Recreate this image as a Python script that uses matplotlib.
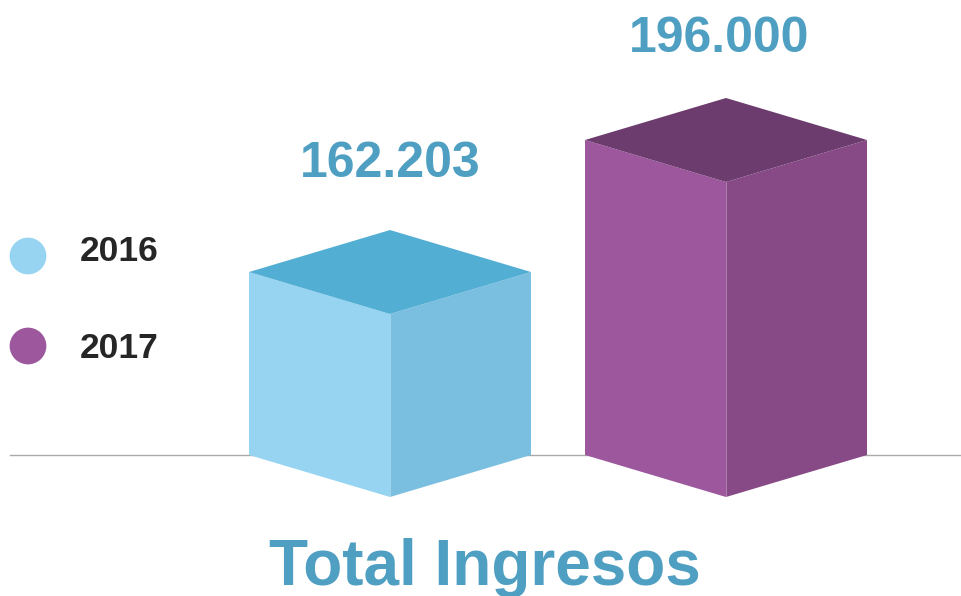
import matplotlib.pyplot as plt
from matplotlib.patches import Polygon

# Data
years = ['2016', '2017']
totals = [162203, 196000]
labels = ['162.203', '196.000']
title = 'Total Ingresos'

# Styles (left face, right face, top)
face_colors = [
    ('#96d4f2', '#7bbfe0', '#53aed4'),
    ('#9c579d', '#874a86', '#6d3c6e'),
]
text_blue = '#4f9fc2'

plt.rcParams['font.family'] = ['Liberation Sans', 'DejaVu Sans']

W, H = 961, 596
fig = plt.figure(figsize=(W / 100, H / 100), dpi=100)
ax = fig.add_axes([0, 0, 1, 1])
ax.set_axis_off()

# axis scale: baseline of the (truncated) value axis and units per pixel
y_base = 115360
units_px = 256.0
base_px = 455
ax.set_ylim(y_base - (H - base_px) * units_px, y_base + base_px * units_px)

x_px = 336.0  # pixels per category
ax.set_xlim(-390 / x_px, 1 + (W - 726) / x_px)

half_w = 141 / x_px
depth = 42 * units_px

for i, (v, (cl, cr, ct)) in enumerate(zip(totals, face_colors)):
    c = i
    left = [(c - half_w, v), (c, v - depth), (c, y_base - depth), (c - half_w, y_base)]
    right = [(c, v - depth), (c + half_w, v), (c + half_w, y_base), (c, y_base - depth)]
    top = [(c - half_w, v), (c, v + depth), (c + half_w, v), (c, v - depth)]
    ax.add_patch(Polygon(left, closed=True, facecolor=cl, edgecolor='none', zorder=3))
    ax.add_patch(Polygon(right, closed=True, facecolor=cr, edgecolor='none', zorder=3))
    ax.add_patch(Polygon(top, closed=True, facecolor=ct, edgecolor='none', zorder=3))
    ax.plot([c, c], [v - depth, y_base - depth], color='white', lw=0.6, alpha=0.35, zorder=4)
    ax.annotate(labels[i], (c, v + depth), xytext=(-5 * i, 31 - 5 * i), textcoords='offset points',
                ha='center', va='bottom', fontsize=36, fontweight='bold', color=text_blue)

# baseline
ax.axhline(y_base, xmin=10 / W, xmax=1, color='#aaaaaa', lw=1, zorder=1)

# legend
for j, yr in enumerate(years):
    yy = 1 - (256 + 90 * j) / H
    ax.scatter([28 / W], [yy], s=700, color=face_colors[j][0], transform=ax.transAxes,
               edgecolors='none', zorder=5)
    ax.text(80 / W, 1 - (252 + 96 * j) / H, yr, transform=ax.transAxes, ha='left', va='center',
            fontsize=25.5, fontweight='bold', color='#262626')

ax.text(485 / W, 1 - 585 / H, title, transform=ax.transAxes, ha='center', va='baseline',
        fontsize=46, fontweight='bold', color=text_blue)

fig.savefig('out.png', dpi=100)
